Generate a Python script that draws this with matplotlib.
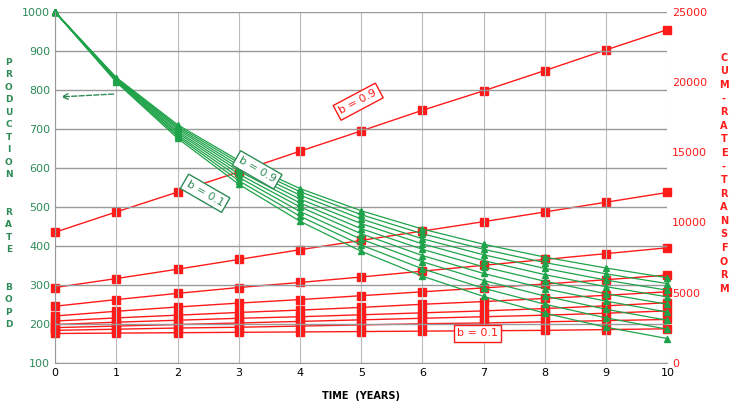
import matplotlib
matplotlib.use("Agg")
import matplotlib.pyplot as plt

years = list(range(11))
green_b = [0.1,0.2,0.3,0.4,0.5,0.6,0.7,0.8,0.9]
rates = [
 [1000,820,676,558,463,386,322,270,227,191,162],
 [1000,822,681,567,476,402,341,291,250,215,186],
 [1000,823,685,576,488,417,359,311,271,237,209],
 [1000,825,690,584,500,431,375,329,290,258,230],
 [1000,826,694,592,510,444,391,346,309,277,250],
 [1000,828,699,599,520,457,405,362,326,295,269],
 [1000,829,703,606,530,469,418,377,342,312,286],
 [1000,831,707,613,539,480,431,391,357,328,303],
 [1000,832,711,619,547,490,443,404,371,343,318],
]
cum = [
 [9306,10750,12167,13611,15083,16528,18000,19389,20833,22306,23750],
 [5361,6000,6667,7361,8056,8722,9389,10056,10750,11444,12139],
 [4028,4500,4944,5361,5722,6111,6528,6944,7361,7778,8194],
 [3333,3667,3972,4250,4500,4778,5056,5333,5611,5917,6250],
 [2972,3194,3389,3583,3750,3944,4167,4361,4583,4806,5056],
 [2722,2889,3028,3167,3278,3417,3556,3694,3861,4056,4278],
 [2500,2611,2722,2833,2944,3056,3167,3278,3389,3528,3694],
 [2306,2389,2472,2528,2611,2694,2778,2833,2917,3000,3083],
 [2083,2111,2139,2167,2194,2222,2250,2278,2306,2361,2417],
]

G = "#1fa34a"; GT = "#2e8b57"; R = "#ff1a1a"
fig = plt.figure(figsize=(7.35,4.03), dpi=100)
ax = fig.add_axes([0.075, 0.10, 0.833, 0.87])
ax2 = ax.twinx()
ax.set_zorder(ax2.get_zorder()+1); ax.patch.set_visible(False)

for r in rates:
    ax.plot(years, r, color=G, lw=0.9, marker="^", ms=5, clip_on=False)
for c in cum:
    ax2.plot(years, c, color=R, lw=1.0, marker="s", ms=6, clip_on=False)

ax.set_xlim(0,10); ax.set_ylim(100,1000)
ax2.set_ylim(0,25000)
ax.set_yticks(range(100,1001,100))
ax2.set_yticks(range(0,25001,5000))
ax.grid(axis="y", color="#999999", lw=1)
ax.grid(axis="x", color="#bbbbbb", lw=0.8)
for a in (ax, ax2):
    for s in a.spines.values(): s.set_visible(False)
    a.tick_params(length=0, labelsize=8)
ax.spines["left"].set_visible(True); ax.spines["left"].set_color("#999999")
ax.spines["bottom"].set_visible(True); ax.spines["bottom"].set_color("#999999")
ax.tick_params(axis="y", colors=GT)
ax2.tick_params(axis="y", colors=R)
ax.set_xticks(years)
ax.set_xlabel("TIME  (YEARS)", fontsize=7, fontweight="bold", labelpad=10)

lt = "PRODUCTION  RATE  BOPD"
fig.text(0.012, 0.52, "\n".join(lt), color=GT, fontsize=6.5, fontweight="bold", ha="center", va="center", linespacing=1.5)
rt = "CUM-RATE-TRANSFORM"
fig.text(0.985, 0.57, "\n".join(rt), color=R, fontsize=7, fontweight="bold", ha="center", va="center", linespacing=1.45)

ax.text(4.95, 770, "b = 0.9", color=R, fontsize=8, rotation=28, ha="center", va="center",
        bbox=dict(boxstyle="square,pad=0.3", fc="white", ec=R, lw=1))
ax.text(6.9, 175, "b = 0.1", color=R, fontsize=8, ha="center", va="center",
        bbox=dict(boxstyle="square,pad=0.3", fc="white", ec=R, lw=1))
ax.text(3.3, 595, "b = 0.9", color=GT, fontsize=8, rotation=-30, ha="center", va="center",
        bbox=dict(boxstyle="square,pad=0.3", fc="white", ec=GT, lw=1))
ax.text(2.45, 535, "b = 0.1", color=GT, fontsize=8, rotation=-30, ha="center", va="center",
        bbox=dict(boxstyle="square,pad=0.3", fc="white", ec=GT, lw=1))
ax.annotate("", xy=(0.05, 782), xytext=(1.0, 790),
            arrowprops=dict(arrowstyle="->", color=GT, ls="--", lw=1))
ax2.annotate("", xy=(10.05, 20800), xytext=(8.15, 20600),
             arrowprops=dict(arrowstyle="->", color=R, ls="--", lw=1))
fig.savefig("out.png", dpi=100)
